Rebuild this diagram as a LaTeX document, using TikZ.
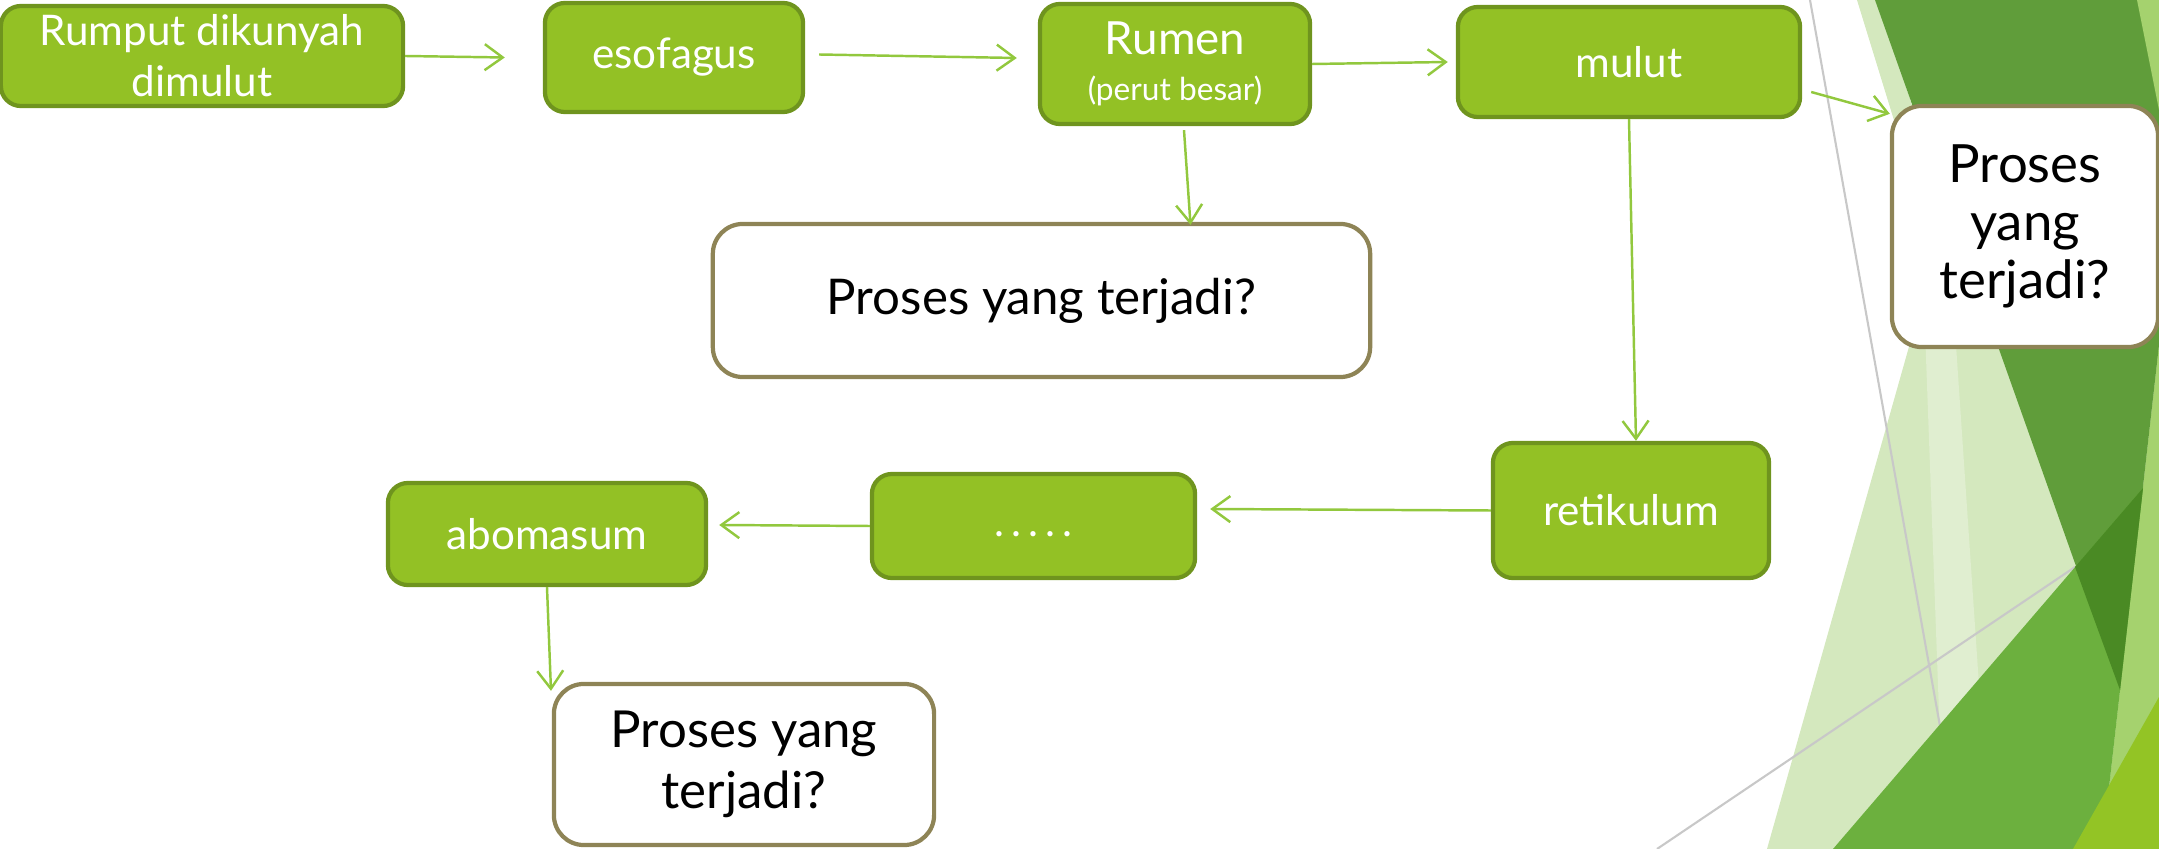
\documentclass[tikz,border=0pt]{standalone}
\usepackage{fontspec}
\setmainfont{Lato}
\usetikzlibrary{arrows.meta,calc}

\definecolor{stagefill}{RGB}{147,193,37}
\definecolor{stageline}{RGB}{111,148,30}
\definecolor{questline}{RGB}{142,132,86}
\definecolor{flowgreen}{RGB}{146,200,62}
\definecolor{facetpale}{RGB}{212,232,190}
\definecolor{facetwhite}{RGB}{224,238,208}
\definecolor{facetdark}{RGB}{96,157,58}
\definecolor{facetmid}{RGB}{108,176,62}
\definecolor{facetdeep}{RGB}{74,138,36}
\definecolor{facetlight}{RGB}{165,210,110}
\definecolor{facetbright}{RGB}{147,196,37}
\definecolor{facetgrey}{RGB}{200,200,200}

\tikzset{
  stage/.style={draw=stageline, fill=stagefill, line width=1.2pt, rounded corners=2mm,
    text=white, align=center, inner sep=0pt, font=\fontsize{12}{14.5}\selectfont},
  quest/.style={draw=questline, fill=white, line width=1.2pt, rounded corners=3mm,
    text=black, align=center, inner sep=0pt},
  flow/.style={->, draw=flowgreen, line width=0.7pt}
}

\begin{document}
\begin{tikzpicture}[x=0.01cm,y=-0.01cm,>={Straight Barb[length=1.8mm,width=2.6mm]}]
  \useasboundingbox (0,0) rectangle (2159,849);
  % facets on the right
  \begin{scope}
    \clip (0,0) rectangle (2159,849);
    \fill[facetpale] (1767,849) -- (2007,0) -- (2159,0) -- (2159,849) -- cycle;
    \fill[facetpale] (1857,0) -- (1878,0) -- (1920,130) -- (1897,130) -- cycle;
    \fill[facetwhite] (1925,330) -- (1955,330) -- (1980,700) -- (1940,740) -- cycle;
    \fill[facetlight] (2159,345) -- (2120,690) -- (2102,849) -- (2159,849) -- cycle;
    \draw[facetgrey, line width=0.6pt] (1810,0) -- (1962,849);
    \draw[facetgrey, line width=0.6pt] (1657,849) -- (2075,567);
    \fill[facetdark] (1875,0) -- (2198,0) -- (2120,690) -- cycle;
    \fill[facetlight] (2137,0) -- (2159,0) -- (2159,110) -- cycle;
    \fill[facetmid] (1833,849) -- (2143,488) -- (2102,849) -- cycle;
    \fill[facetdeep] (2075,567) -- (2143,488) -- (2120,690) -- cycle;
    \fill[facetbright] (2073,849) -- (2159,697) -- (2159,849) -- cycle;
  \end{scope}

  % stages
  \node[stage, minimum width=4.02cm, minimum height=1.0cm] (rumput) at (202,56)
    {Rumput dikunyah\\dimulut};
  \node[stage, minimum width=2.58cm, minimum height=1.09cm] (esofagus) at (674,57.5)
    {esofagus};
  \node[stage, minimum width=2.70cm, minimum height=1.20cm, font=\fontsize{13}{15}\selectfont]
    (rumen) at (1175,64) {Rumen\\[-2pt]{\fontsize{9}{11}\selectfont (perut besar)}};
  \node[stage, minimum width=3.42cm, minimum height=1.10cm] (mulut) at (1629,62)
    {mulut};
  \node[stage, minimum width=2.76cm, minimum height=1.35cm] (retikulum) at (1631,510.5)
    {retikulum};
  \node[stage, minimum width=3.23cm, minimum height=1.04cm] (dots) at (1033.5,526)
    {\strut.\,.\,.\,.\,.};
  \node[stage, minimum width=3.18cm, minimum height=1.02cm] (abomasum) at (547,534)
    {abomasum};

  % questions
  \node[quest, minimum width=6.57cm, minimum height=1.53cm, font=\fontsize{14}{16}\selectfont]
    (procC) at (1041.5,300.5) {Proses yang terjadi?};
  \node[quest, minimum width=2.66cm, minimum height=2.41cm, font=\fontsize{15}{16.5}\selectfont]
    (procR) at (2025,226.5) {Proses\\yang\\terjadi?};
  \node[quest, minimum width=3.80cm, minimum height=1.61cm, font=\fontsize{14.5}{17.5}\selectfont]
    (procB) at (744,764.5) {Proses yang\\terjadi?};

  % flow
  \draw[flow] (rumput.east) -- ($(esofagus.west)+(-38,0)$);
  \draw[flow] ($(esofagus.east)+(14,-3)$) -- ($(rumen.west)+(-21,-6)$);
  \draw[flow] (rumen.east) -- ($(mulut.west)+(-8,0)$);
  \draw[flow] ($(rumen.south)+(9,4)$) -- ($(procC.north)+(149,3)$);
  \draw[flow] ($(mulut.east)+(9,30)$) -- ($(procR.north west)+(0,10)$);
  \draw[flow] (mulut.south) -- ($(retikulum.north)+(5,0)$);
  \draw[flow] (retikulum.west) -- ($(dots.east)+(13,-17)$);
  \draw[flow] (dots.west) -- ($(abomasum.east)+(11,-9)$);
  \draw[flow] (abomasum.south) -- ($(procB.north)+(-193,9)$);
\end{tikzpicture}
\end{document}
